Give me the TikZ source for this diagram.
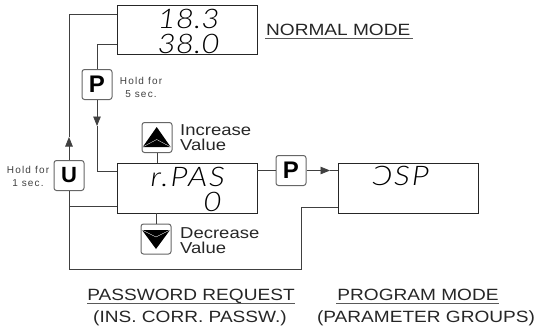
\documentclass[tikz,border=0pt]{standalone}
\usepackage{fontspec}
\setmainfont{Liberation Sans}
\newfontfamily\segf[FakeStretch=1.17]{Lato Light Italic}
\newfontfamily\widef[FakeStretch=1.17]{Liberation Sans}
\usetikzlibrary{arrows.meta}
\tikzset{
  x=1pt,y=-1pt,
  wire/.style={draw=black!75,line width=0.8pt},
  lcd/.style={draw=black!85,line width=0.9pt},
  key/.style={draw=black!60,line width=1pt,rounded corners=2.5pt,fill=white,minimum size=30pt,inner sep=0pt},
  flow/.style={wire,-{Triangle[length=9.5pt,width=7.5pt]}},
  rule/.style={draw=black!65,line width=1pt},
  seg/.style={font=\segf\fontsize{27}{27}\selectfont,inner sep=0pt,anchor=base east},
  segsp/.style={font=\segf\fontsize{27}{27}\selectfont\addfontfeature{LetterSpace=7},inner sep=0pt,anchor=base east},
  small/.style={font=\addfontfeature{LetterSpace=12}\fontsize{10}{13}\selectfont,text=black!75,inner sep=0pt,align=center},
  lab/.style={font=\widef\fontsize{15.8}{15}\selectfont,text=black!85,inner sep=0pt,anchor=west,align=left},
  captxt/.style={font=\widef\fontsize{16.3}{20}\selectfont,text=black!85,inner sep=0pt,anchor=base},
  keyglyph/.style={font=\bfseries\fontsize{24}{24}\selectfont,inner sep=0pt},
  keyglyphu/.style={font=\bfseries\fontsize{22}{22}\selectfont,inner sep=0pt},
  chev/.style={draw=white,line width=0.3pt},
}
\begin{document}
\begin{tikzpicture}
\useasboundingbox (0,0) rectangle (538,330);
% display boxes
\draw[lcd] (117,5) rectangle (257,54);
\coordinate (nA) at (117,14); \coordinate (nB) at (117,44);
\draw[lcd] (117,163) rectangle (257,213);
\coordinate (pA) at (117,171); \coordinate (pB) at (117,206);
\draw[lcd] (338,163) rectangle (478,213);
\coordinate (gA) at (338,207); \coordinate (gB) at (338,170.5);
% keys
\node[key] (kp) at (97,84.5) {};
\node[keyglyph] at (kp) {P};
\node[key] (ku) at (69,175.5) {};
\node[keyglyphu] at (ku) {U};
\node[key] (kq) at (291,170.5) {};
\node[keyglyph] at (kq) {P};
\node[key] (kup) at (157,137.5) {};
\fill (142.7,147) -- (156.7,127) -- (170.7,147) -- cycle;
\draw[chev] (142.7,147) -- (156.7,139.5) -- (170.7,147);
\node[key] (kdn) at (156,239) {};
\fill (142,230) -- (156,249) -- (170,230) -- cycle;
\draw[chev] (142,230) -- (156,237) -- (170,230);
\coordinate (bl) at (69,269);
\coordinate (br) at (301,269);
\coordinate (tipd) at (97,126);
\coordinate (tipu) at (69,137);
\coordinate (tipr) at (330,170.5);
% wires
\draw[wire] (nB) -| (kp.north);
\draw[flow] (kp.south) -- (tipd);
\draw[wire] (tipd) |- (pA);
\draw[flow] (ku.north) -- (tipu);
\draw[wire] (tipu) |- (nA);
\draw[wire] (ku.south) |- (pB);
\draw[wire] (ku.south) -- (bl) -- (br) |- (gA);
\draw[wire] (kup.south) -- (157,163);
\draw[wire] (156,213) -- (kdn.north);
\draw[wire] (257,170.5) -- (kq.west);
\draw[flow] (kq.east) -- (tipr);
\draw[wire] (tipr) -- (gB);
% texts
\node[seg] (d1) at (220,28) {18.3};
\node[seg] (d2) at (220,53) {38.0};
\node[segsp] (d3) at (225,186) {r.PAS};
\node[seg] (d4) at (222,211) {0};
\node[segsp] (d5) at (429,185) {ƆSP};
\node[captxt,anchor=base west] (t1) at (266,35) {NORMAL MODE};
\draw[rule] (265,38) -- (413,38);
\node[small] (t2) at (141,87) {Hold for\\5 sec.};
\node[small] (t3) at (28,176) {Hold for\\1 sec.};
\node[lab] (t4) at (180,137.5) {Increase\\Value};
\node[lab] (t5) at (180,240.5) {Decrease\\Value};
\node[captxt] (t6) at (191,300.7) {PASSWORD REQUEST};
\draw[rule] (87,303.5) -- (295,303.5);
\node[captxt] (t7) at (418,300.7) {PROGRAM MODE};
\draw[rule] (336,303.5) -- (499,303.5);
\node[captxt] (t8) at (190,322.7) {(INS. CORR. PASSW.)};
\node[captxt] (t9) at (426,322.7) {(PARAMETER GROUPS)};
\end{tikzpicture}
\end{document}
